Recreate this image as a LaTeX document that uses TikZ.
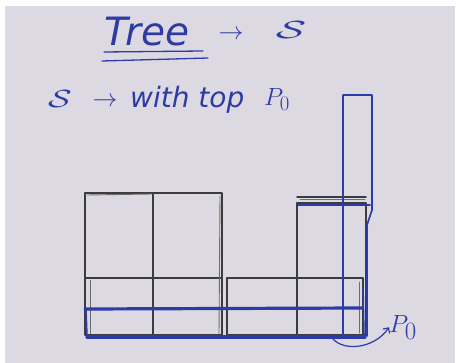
\documentclass[tikz,border=0pt]{standalone}
\usepackage{fontspec}
\newfontfamily\handfont{DejaVu Sans}
\usetikzlibrary{arrows.meta}
\definecolor{paper}{RGB}{221,217,226}
\definecolor{pen}{RGB}{45,60,165}
\definecolor{pencil}{RGB}{60,60,60}
\tikzset{
  blk/.style={draw=pencil, line width=1.5pt, line cap=round, line join=round},
  blkthin/.style={draw=pencil!75, line width=0.9pt, line cap=round},
  bline/.style={draw=pen, line width=1.6pt, line cap=round, line join=round},
  bthick/.style={draw=pen, line width=3.2pt, line cap=round},
  hand/.style={text=pen, inner sep=0pt},
}
\begin{document}
\begin{tikzpicture}[x=1pt,y=-1pt]
\useasboundingbox (0,0) rectangle (457,363);
\fill[white] (0,0) rectangle (457,363);
\fill[paper] (5,6) rectangle (455,363);
% headings
\node[hand, font=\handfont\itshape\fontsize{39}{41}\selectfont, anchor=base west] (tree) at (104,46) {Tree};
\draw[bline, line width=1.3pt] (104,52) -- (203,51);
\draw[bline, line width=1.3pt] (102,61) -- (208,58);
\node[hand, font=\fontsize{30}{32}\selectfont] (arr1) at (231,35) {$\rightarrow$};
\node[hand, font=\fontsize{36}{38}\selectfont] (s1) at (291,30) {\scalebox{1.8}[1]{$\mathcal{S}$}};
\node[hand, font=\fontsize{34}{36}\selectfont] (s2) at (60,99) {\scalebox{1.4}[1]{$\mathcal{S}$}};
\node[hand, font=\fontsize{24}{26}\selectfont] (arr2) at (105,102) {$\rightarrow$};
\node[hand, font=\handfont\itshape\fontsize{28}{30}\selectfont, anchor=base west] (with) at (130,108) {with top};
\node[hand, font=\fontsize{30}{32}\selectfont, anchor=base west] (p0a) at (264,106) {$P_0$};
% black boxes
\draw[blk] (85,193) rectangle (153,335);
\draw[blk] (153,193) rectangle (222,335);
\draw[blk] (227,278) rectangle (363,335);
\draw[blk] (85,278) -- (222,278);
\draw[blk] (297,203) rectangle (366,335);
\draw[blk] (297,197) -- (366,197);
\draw[blkthin] (87,195) -- (152,194);
\draw[blkthin] (90,280) -- (90,334);
\draw[blkthin] (220,196) -- (219,334);
\draw[blkthin] (359,282) -- (359,333);
\draw[blkthin] (300,199) -- (365,199);
% blue tall rectangle
\draw[bline] (343,338) -- (343,95) -- (372,95) -- (372,210) -- (367,225) -- (367,336);
\draw[bline] (298,205) -- (370,205);
\draw[bline] (363,287) -- (364,336);
% blue thick lines
\draw[bthick] (85,309) -- (362,308);
\draw[bthick] (87,337) -- (365,337);
\draw[bline] (86,309) -- (87,337);
% arrow to P0
\node[hand, font=\fontsize{38}{40}\selectfont, anchor=base west] (p0b) at (389,332) {$P_0$};
\coordinate (st) at (333,339);
\draw[bline, line width=1.2pt, -{Straight Barb[length=4pt]}] (st) .. controls (345,352) and (375,348) .. (p0b.west);
\end{tikzpicture}
\end{document}
